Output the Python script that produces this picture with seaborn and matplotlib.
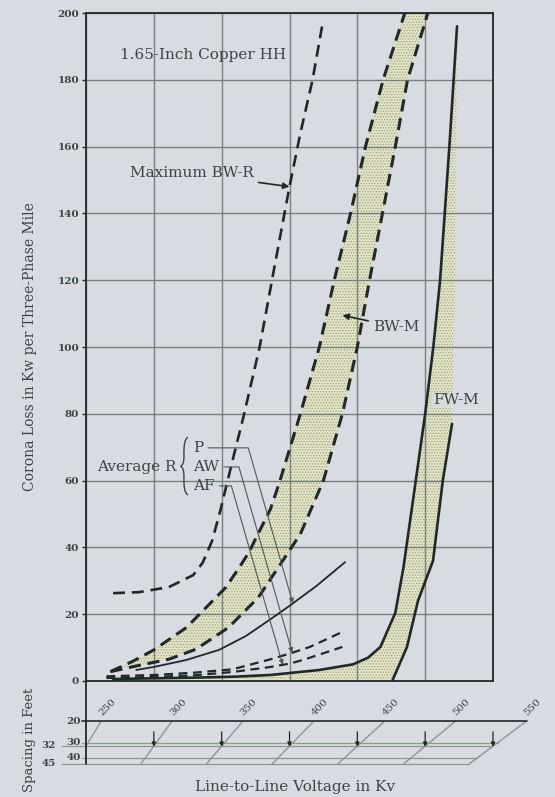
import matplotlib

matplotlib.use("Agg")
import matplotlib.pyplot as plt
import numpy as np
import seaborn as sns
from matplotlib.lines import Line2D
from matplotlib.path import Path
from matplotlib.patches import PathPatch

# ---------- data: kV (line-to-line, 32-ft spacing basis) vs kW per 3-phase mile ----------
YTICKS = [0, 20, 40, 60, 80, 100, 120, 140, 160, 180, 200]
XGRID = [250, 300, 350, 400, 450, 500, 550]

MAX_BWR_KV = [270, 289, 311, 329, 336, 343, 349, 358, 366, 378, 388, 400, 408, 417, 424]
MAX_BWR_KW = [26.3, 26.6, 28.1, 31.7, 35.4, 42, 51, 66, 79, 100, 122, 148, 164, 180, 196]

BWM_LEFT_KV = [268, 285, 300, 324, 353, 363, 370, 378, 386, 393, 408, 422, 433, 445, 456, 469, 485]
BWM_LEFT_KW = [2.8, 6, 9.3, 16, 28, 34, 38.5, 45, 51.5, 60, 80, 100, 120, 140, 160, 180, 200]
BWM_RIGHT_KV = [268, 287, 311, 331, 355, 377, 395, 408, 425, 439, 450, 459, 469, 478, 487, 502]
BWM_RIGHT_KW = [2.8, 4.5, 6.5, 9.5, 16, 25, 36, 44, 60, 80, 100, 120, 141, 160, 180, 200]

FWM_LEFT_KV = [270, 300, 330, 360, 386, 422, 447, 458, 467, 478, 484, 491, 500, 506, 511, 518, 523.5]
FWM_LEFT_KW = [0.6, 0.8, 1.0, 1.3, 1.8, 3.3, 5.0, 7.0, 10.2, 20.4, 34, 54, 80, 100, 120, 161, 196]
FWM_RIGHT_KV = [476, 486.6, 494.7, 505.8, 513, 519.8]
FWM_RIGHT_KW = [0.3, 10.2, 24, 36, 60, 77]
FWM_EDGE_KV = [521, 522, 522.5, 524]  # shaded edge above the solid line
FWM_EDGE_KW = [100, 120, 161, 194]

P_KV = [287, 300, 324, 348, 368, 386, 400, 420, 441]
P_KW = [3.3, 4.2, 6.3, 9.3, 13.5, 18.5, 22.5, 28.5, 35.6]
AW_KV = [265, 300, 330, 358, 386, 400, 415, 439]
AW_KW = [1.4, 1.8, 2.5, 3.5, 6.5, 8.2, 10.2, 14.7]
AF_KV = [265, 300, 330, 358, 386, 400, 410, 439]
AF_KW = [0.9, 1.2, 1.7, 2.7, 4.2, 5.2, 6.3, 10.2]

# spacing nomogram
SPACING_FT = [20, 30, 32, 40, 45]
NOMO_KV = [250, 300, 350, 400, 450, 500, 550]
SHIFT_20, SHIFT_45 = 1.045, 0.968  # kV scale factor at 20 ft and 45 ft spacing

# ---------- style ----------
sns.set_style("ticks")
plt.rcParams["font.family"] = ["DejaVu Serif"]
plt.rcParams["hatch.linewidth"] = 0.6
BG = "#d8dce2"
INK = "#1f2927"
TXT = "#3a4543"
GRID = "#77827f"
FILL = "#e4e3c4"
DOT = "#9aa58c"
NOMO = "#8d9694"

W, H = 555, 797
KV_PER_PX = 300 / 407


def box(l, t, r, b):
    return [l / W, 1 - b / H, (r - l) / W, (b - t) / H]


fig = plt.figure(figsize=(W / 100, H / 100), dpi=100, facecolor=BG)
ax = fig.add_axes(box(86, 13, 493, 681))
ax.set_facecolor(BG)

# bands
ax.fill(BWM_LEFT_KV + BWM_RIGHT_KV[::-1], BWM_LEFT_KW + BWM_RIGHT_KW[::-1],
        facecolor=FILL, edgecolor=DOT, hatch="......", lw=0, zorder=0.3)
ax.fill(FWM_LEFT_KV + FWM_EDGE_KV[::-1] + FWM_RIGHT_KV[::-1] + [FWM_LEFT_KV[0]],
        FWM_LEFT_KW + FWM_EDGE_KW[::-1] + FWM_RIGHT_KW[::-1] + [0],
        facecolor=FILL, edgecolor=DOT, hatch="......", lw=0, zorder=0.3)


def curve(xs, ys, lw, dash=None):
    kw = dict(x=xs, y=ys, ax=ax, color=INK, lw=lw, sort=False,
              estimator=None, legend=False)
    if dash:
        kw["linestyle"] = (0, dash)
    sns.lineplot(**kw)


curve(MAX_BWR_KV, MAX_BWR_KW, 1.9, (4.5, 2.6))
curve(BWM_LEFT_KV, BWM_LEFT_KW, 2.2, (4.0, 2.2))
curve(BWM_RIGHT_KV, BWM_RIGHT_KW, 2.2, (4.0, 2.2))
curve(FWM_LEFT_KV, FWM_LEFT_KW, 1.9)
curve(FWM_RIGHT_KV, FWM_RIGHT_KW, 1.9)
curve(P_KV, P_KW, 1.3)
curve(AW_KV, AW_KW, 1.6, (4.0, 2.5))
curve(AF_KV, AF_KW, 1.6, (4.0, 2.5))

ax.set_xlim(250, 550)
ax.set_ylim(0, 200)
ax.set_xticks(XGRID)
ax.set_xticklabels([])
ax.set_yticks(YTICKS)
ax.set_yticklabels([str(v) for v in YTICKS], fontsize=7.5, fontweight="bold", color=TXT)
ax.tick_params(axis="x", length=0)
ax.tick_params(axis="y", length=3, width=1, color=INK, pad=2)
ax.set_axisbelow(True)
ax.grid(True, color=GRID, lw=1.0)
ax.set_xlabel("")
ax.set_ylabel("")
for sp in ax.spines.values():
    sp.set_color(INK)
    sp.set_linewidth(1.3)

# ---------- labels on the chart ----------
lab = dict(fontsize=11, color=TXT)
ax.text(275, 187.4, "1.65-Inch Copper HH", ha="left", va="center", **lab)
ax.annotate("Maximum BW-R", xy=(np.interp(148, MAX_BWR_KW, MAX_BWR_KV), 148),
            xytext=(282.4, 152), ha="left", va="center", **lab,
            arrowprops=dict(arrowstyle="-|>", color=INK, lw=1.2,
                            mutation_scale=9, shrinkA=1, shrinkB=0))
ax.annotate("BW-M", xy=(439, 109.5), xytext=(461.5, 106), ha="left", va="center",
            **lab, arrowprops=dict(arrowstyle="-|>", color=INK, lw=1.2,
                                   mutation_scale=9, shrinkA=1, shrinkB=0))
ax.text(505.8, 84, "FW-M", ha="left", va="center", **lab,
        bbox=dict(boxstyle="square,pad=0.05", fc=BG, ec="none", alpha=0.85))

ax.text(317, 64.1, "Average R", ha="right", va="center", **lab)
brace = Path(
    [(325.2, 73), (321.8, 72.5), (322.2, 67.5), (322.4, 64.8), (319.8, 64.3),
     (322.4, 63.8), (322.2, 61), (321.8, 56.2), (325.2, 55.7)],
    [Path.MOVETO, Path.CURVE3, Path.CURVE3, Path.CURVE3, Path.CURVE3,
     Path.CURVE3, Path.CURVE3, Path.CURVE3, Path.CURVE3],
)
ax.add_patch(PathPatch(brace, fc="none", ec=TXT, lw=1.0))

leaders = [("P", 69.8, P_KV, P_KW, 402.5), ("AW", 64.1, AW_KV, AW_KW, 402),
           ("AF", 58.4, AF_KV, AF_KW, 395)]
for name, ky, xs, ys, kv_tip in leaders:
    ax.annotate(name, xy=(kv_tip, np.interp(kv_tip, xs, ys)), xytext=(328.9, ky),
                ha="left", va="center", **lab,
                arrowprops=dict(arrowstyle="-|>", color="#4f5a58", lw=0.8,
                                mutation_scale=7, shrinkA=1, shrinkB=0,
                                connectionstyle="angle,angleA=0,angleB=106,rad=0"))

# ---------- spacing nomogram ----------
ax2 = fig.add_axes(box(86, 721, 545, 764))
ax2.set_axis_off()
ax2.set_yscale("log")
ax2.set_xlim(250, 250 + (545 - 86) * KV_PER_PX)
ax2.set_ylim(45, 20)


def shift(s):
    return SHIFT_20 + (SHIFT_45 - SHIFT_20) * np.log(s / 20) / np.log(45 / 20)


for v in NOMO_KV:
    ax2.plot([v * SHIFT_20, v * SHIFT_45], [20, 45], color=NOMO, lw=1.0)
    ax2.annotate(str(v), xy=(v * SHIFT_20, 20), xytext=(1.5, 2.5),
                 textcoords="offset points", rotation=45, rotation_mode="anchor",
                 ha="left", va="bottom", fontsize=7.5, color=TXT)

for s in SPACING_FT:
    far = s in (32, 45)
    x0 = 250 - (24 if far else 4) * KV_PER_PX
    ax2.plot([x0, 550 * shift(s)], [s, s], color=INK if s == 20 else NOMO,
             lw=1.2 if s == 20 else 0.9, clip_on=False)
    ax2.text(250 - (30 if far else 5) * KV_PER_PX, s, str(s), ha="right",
             va="center", fontsize=7.5, fontweight="bold", color=TXT)

for v in NOMO_KV[1:]:
    ax2.annotate("", xy=(v, 32.5), xytext=(v, 24.5),
                 arrowprops=dict(arrowstyle="-|>", color=INK, lw=0.9,
                                 mutation_scale=6, shrinkA=0, shrinkB=0))

fig.add_artist(Line2D([86 / W, 86 / W], [1 - 681 / H, 1 - 764 / H], color=INK, lw=1.3))

fig.text(30 / W, 1 - 347 / H, "Corona Loss in Kw per Three-Phase Mile", rotation=90,
         ha="center", va="center", fontsize=10, color=TXT)
fig.text(30 / W, 1 - 740 / H, "Spacing in Feet", rotation=90,
         ha="center", va="center", fontsize=9.5, color=TXT)
fig.text(295 / W, 1 - 787 / H, "Line-to-Line Voltage in Kv", ha="center",
         va="center", fontsize=11, color=TXT)

fig.savefig("out.png", dpi=100, facecolor=BG)
